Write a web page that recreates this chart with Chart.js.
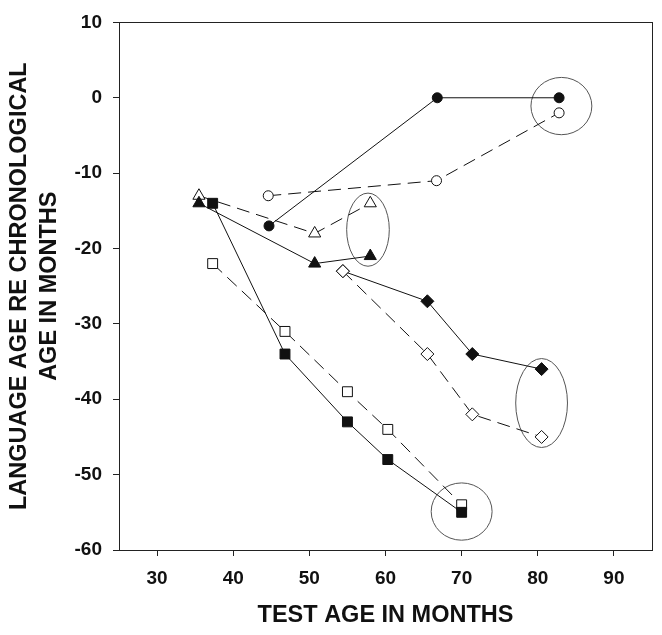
<!DOCTYPE html>
<html><head><meta charset="utf-8">
<script src="https://cdn.jsdelivr.net/npm/chart.js@4.4.1/dist/chart.umd.min.js"></script>
<style>html,body{margin:0;padding:0;background:#fff;}#wrap{width:662px;height:635px;}</style>
</head><body><div id="wrap"><canvas id="c" width="662" height="635"></canvas></div>
<script>
// Tick labels
const xTicks = [30, 40, 50, 60, 70, 80, 90];
const yTicks = [10, 0, -10, -20, -30, -40, -50, -60];

// Series (test age in months, language age re chronological age)
const circleFilledX = [44.7, 66.8, 82.8];
const circleFilledY = [-17, 0, 0];
const circleOpenX = [44.6, 66.7, 82.8];
const circleOpenY = [-13, -11, -2];
const triFilledX = [35.5, 50.7, 58.0];
const triFilledY = [-14, -22, -21];
const triOpenX = [35.5, 50.7, 58.0];
const triOpenY = [-13, -18, -14];
const diaFilledX = [54.4, 65.5, 71.4, 80.5];
const diaFilledY = [-23, -27, -34, -36];
const diaOpenX = [54.4, 65.5, 71.4, 80.5];
const diaOpenY = [-23, -34, -42, -45];
const sqFilledX = [37.3, 46.8, 55.0, 60.3, 70.0];
const sqFilledY = [-14, -34, -43, -48, -55];
const sqOpenX = [37.3, 46.8, 55.0, 60.3, 70.0];
const sqOpenY = [-22, -31, -39, -44, -54];

// Highlight ellipses: centre x, centre y, radius x, radius y (data units)
const ellipseCX = [83.1, 57.7, 80.5, 70.0];
const ellipseCY = [-1.1, -17.5, -40.5, -54.9];
const ellipseRX = [4.0, 2.8, 3.4, 4.0];
const ellipseRY = [3.8, 4.85, 5.9, 3.8];

const FONT = '"Liberation Sans", Arial, Helvetica, sans-serif';
const pts = (xs, ys) => xs.map((x, i) => ({x: x, y: ys[i]}));
function ds(xs, ys, style, filled, dashed, r) {
  return {
    data: pts(xs, ys), showLine: true, borderColor: '#111', borderWidth: 1,
    borderDash: dashed ? [13, 7] : [], pointStyle: style, pointRadius: r,
    pointHoverRadius: r, pointBackgroundColor: filled ? '#111' : '#fff',
    pointBorderColor: '#111', pointBorderWidth: 1, fill: false, tension: 0
  };
}

const ellipsePlugin = {
  id: 'ellipses',
  beforeDatasetsDraw(chart) {
    const {ctx, scales: {x, y}} = chart;
    ctx.save();
    ctx.strokeStyle = '#555';
    ctx.lineWidth = 1;
    for (let i = 0; i < ellipseCX.length; i++) {
      const cx = x.getPixelForValue(ellipseCX[i]);
      const cy = y.getPixelForValue(ellipseCY[i]);
      const rx = Math.abs(x.getPixelForValue(ellipseCX[i] + ellipseRX[i]) - cx);
      const ry = Math.abs(y.getPixelForValue(ellipseCY[i] + ellipseRY[i]) - cy);
      ctx.beginPath();
      ctx.ellipse(cx, cy, rx, ry, 0, 0, Math.PI * 2);
      ctx.stroke();
    }
    ctx.restore();
  }
};
const framePlugin = {
  id: 'frame',
  afterDraw(chart) {
    const {ctx, chartArea: a} = chart;
    ctx.save();
    ctx.strokeStyle = '#222';
    ctx.lineWidth = 1;
    ctx.strokeRect(Math.round(a.left) + 0.5, Math.round(a.top) + 0.5,
      Math.round(a.right - a.left), Math.round(a.bottom - a.top));
    ctx.restore();
  }
};

new Chart(document.getElementById('c'), {
  type: 'scatter',
  data: {
    datasets: [
      ds(circleFilledX, circleFilledY, 'circle', true, false, 5),
      ds(circleOpenX, circleOpenY, 'circle', false, true, 5),
      ds(triFilledX, triFilledY, 'triangle', true, false, 7),
      ds(triOpenX, triOpenY, 'triangle', false, true, 7),
      ds(diaOpenX, diaOpenY, 'rectRot', false, true, 6.5),
      ds(diaFilledX, diaFilledY, 'rectRot', true, false, 6.5),
      ds(sqFilledX, sqFilledY, 'rect', true, false, 7),
      ds(sqOpenX, sqOpenY, 'rect', false, true, 7)
    ]
  },
  options: {
    responsive: false, animation: false, devicePixelRatio: 1,
    layout: {padding: {left: 0, right: 10, top: 17, bottom: 0}},
    plugins: {legend: {display: false}, tooltip: {enabled: false}},
    scales: {
      x: {
        type: 'linear', min: 25, max: 95,
        afterBuildTicks: s => { s.ticks = xTicks.map(v => ({value: v})); },
        afterFit: s => { s.height = 85; },
        ticks: {font: {family: FONT, size: 19, weight: 'bold'}, color: '#111', padding: 11, maxRotation: 0},
        grid: {drawOnChartArea: false, drawTicks: true, tickLength: 6, color: '#222'},
        border: {display: true, color: '#222'},
        title: {display: true, text: 'TEST AGE IN MONTHS', color: '#111',
          font: {family: FONT, size: 23.5, weight: 'bold', lineHeight: 1.2}, padding: {top: 0, bottom: 5}}
      },
      y: {
        type: 'linear', min: -60, max: 10,
        afterBuildTicks: s => { s.ticks = yTicks.map(v => ({value: v})); },
        afterFit: s => { s.width = 119; },
        ticks: {font: {family: FONT, size: 19, weight: 'bold'}, color: '#111', padding: 11},
        grid: {drawOnChartArea: false, drawTicks: true, tickLength: 6, color: '#222'},
        border: {display: true, color: '#222'},
        title: {display: true, text: ['LANGUAGE AGE RE CHRONOLOGICAL', 'AGE IN MONTHS'], color: '#111',
          font: {family: FONT, size: 23.5, weight: 'bold', lineHeight: 1.3}, padding: {top: 4, bottom: 0}}
      }
    }
  },
  plugins: [ellipsePlugin, framePlugin]
});
</script>
</body></html>
